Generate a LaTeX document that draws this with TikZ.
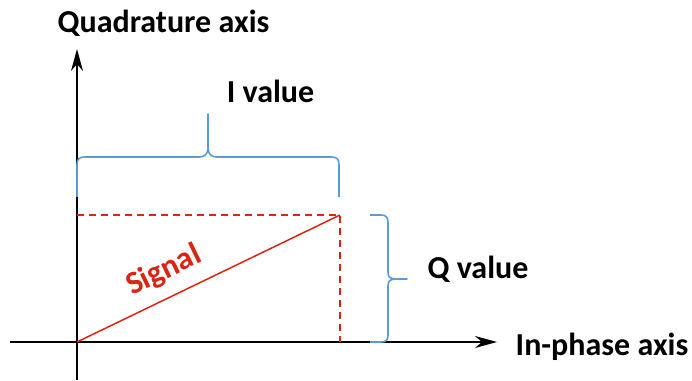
\documentclass[tikz,border=0pt]{standalone}
\usepackage{fontspec}
\setmainfont{Carlito}
\usetikzlibrary{arrows.meta}
\definecolor{sigred}{RGB}{218,37,20}
\definecolor{braceblue}{RGB}{91,155,213}
\tikzset{
  axis/.style={line width=1.6pt, -{Stealth[length=22pt,width=12pt,inset=7pt]}},
  brace/.style={braceblue, line width=1.6pt, line join=round},
  guide/.style={sigred, line width=1.4pt, dash pattern=on 7pt off 5pt},
  label/.style={font=\fontsize{32}{38}\selectfont\bfseries, inner sep=0pt, anchor=base}
}
\begin{document}
\begin{tikzpicture}[x=1pt,y=1pt]
\useasboundingbox (0,0) rectangle (692,380);
% axes
\coordinate (o) at (77,38);
\coordinate (xl) at (10,38);
\coordinate (xr) at (497,38);
\coordinate (yb) at (77,0);
\coordinate (yt) at (77,331);
\draw[axis] (xl) -- (xr);
\draw[axis] (yb) -- (yt);
% signal and its projections
\coordinate (s) at (340,165);
\draw[guide] (77,165) -- (s) -- (340,38);
\draw[sigred, line width=1.5pt] (o) -- (s);
% I value brace
\draw[brace] (77,183) -- (77,215) .. controls (77,221) and (79,223) .. (85,223)
  -- (199,223) .. controls (205,223) and (208,226) .. (208,233) -- (208,266)
  -- (208,233) .. controls (208,226) and (211,223) .. (217,223)
  -- (331,223) .. controls (337,223) and (339,221) .. (339,215) -- (339,183);
% Q value brace
\draw[brace] (370,165) -- (381,165) .. controls (386,165) and (388,163) .. (388,157)
  -- (388,108) .. controls (388,103) and (390,101) .. (396,101) -- (407,101)
  -- (396,101) .. controls (390,101) and (388,99) .. (388,94)
  -- (388,45) .. controls (388,40) and (386,38) .. (381,38) -- (370,38);
% labels
\node[label] (qaxis) at (163.5,347) {Quadrature axis};
\node[label] (ival) at (270.5,277) {I value};
\node[label] (qval) at (478,102) {Q value};
\node[label] (iaxis) at (602,25) {In-phase axis};
\node[label, anchor=center, sigred, rotate=25.8] (sig) at (164,109) {Signal};
\end{tikzpicture}
\end{document}
